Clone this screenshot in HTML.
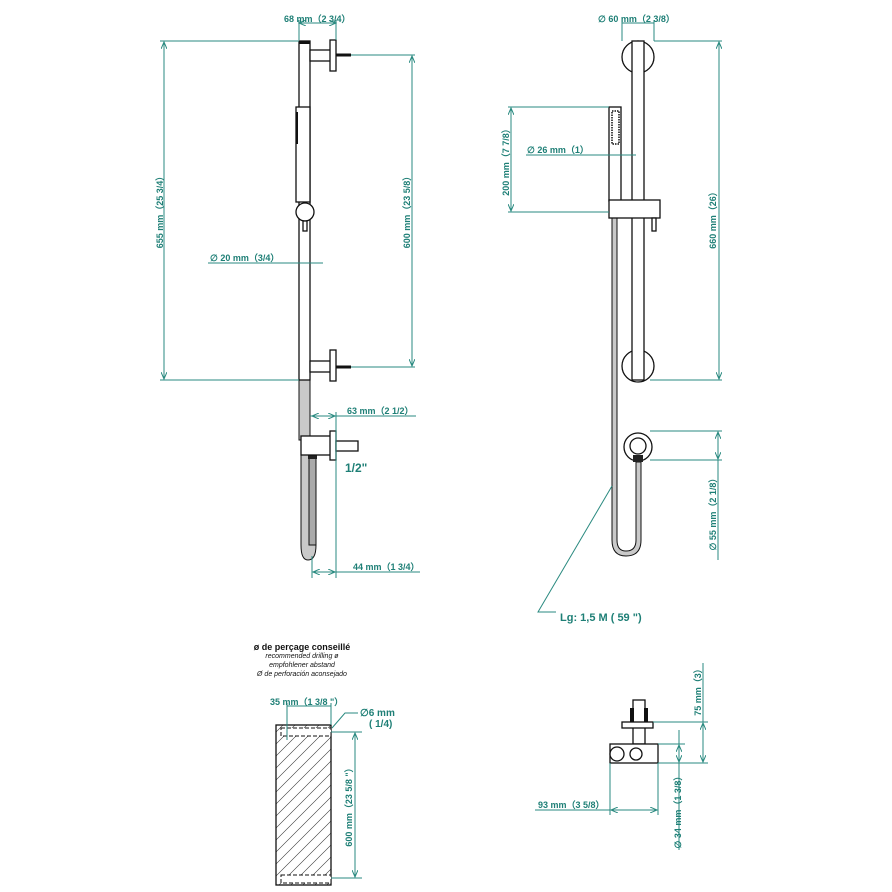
<!DOCTYPE html>
<html><head><meta charset="utf-8"><style>
html,body{margin:0;padding:0;background:#fff;width:892px;height:892px;overflow:hidden}
svg{display:block}
.t{font-family:"Liberation Sans",sans-serif;font-weight:bold;font-size:9px;fill:#1e7f76}
.d{stroke:#2a8a80;stroke-width:1;fill:none}
.k{stroke:#111;stroke-width:1.3;fill:#fff}
.h{stroke:#111;stroke-width:1;fill:#c9c9c9}
</style></head><body>
<svg width="892" height="892" viewBox="0 0 892 892">
<defs>
<marker id="a" markerWidth="8" markerHeight="6" refX="7" refY="3" orient="auto-start-reverse"><path d="M0,0 L7,3 L0,6" fill="none" stroke="#2a8a80"/></marker>
<pattern id="hp" width="12" height="12" patternUnits="userSpaceOnUse"><path d="M0,12 L12,0 M-3,3 L3,-3 M9,15 L15,9" stroke="#333" stroke-width="0.6" fill="none"/></pattern>
</defs>

<!-- LEFT ELEVATION -->
<rect class="h" x="299" y="380" width="11" height="60"/>
<path class="h" d="M301,455 L301,545 Q301,560 308,560 Q316,560 316,545 L316,455 Z"/>
<rect x="309" y="455" width="7" height="90" fill="#aaa" stroke="#111"/>
<rect x="308" y="451" width="9" height="8" fill="#222"/>
<rect class="k" x="299" y="41" width="11" height="339"/>
<rect x="299" y="41" width="11" height="3" fill="#111"/>
<rect class="k" x="310" y="50" width="22" height="11"/>
<rect class="k" x="330" y="40" width="6" height="31"/>
<path d="M336,55 L351,55" stroke="#111" stroke-width="3"/>
<rect class="k" x="310" y="361" width="22" height="11"/>
<rect class="k" x="330" y="350" width="6" height="31"/>
<path d="M336,367 L351,367" stroke="#111" stroke-width="3"/>
<rect class="k" x="296" y="107" width="14" height="95"/>
<rect x="296" y="112" width="2" height="32" fill="#111"/>
<circle class="k" cx="305" cy="212" r="9"/>
<rect class="k" x="303" y="221" width="4" height="10"/>
<rect class="k" x="301" y="436" width="30" height="19"/>
<rect class="k" x="330" y="431" width="6" height="29"/>
<rect class="k" x="336" y="441" width="22" height="10"/>

<line class="d" x1="299" y1="20" x2="299" y2="40"/><line class="d" x1="336" y1="20" x2="336" y2="40"/>
<line class="d" x1="299" y1="23" x2="336" y2="23" marker-start="url(#a)" marker-end="url(#a)"/>
<text class="t" x="284" y="22">68 mm（2 3/4）</text>
<line class="d" x1="160" y1="41" x2="299" y2="41"/><line class="d" x1="160" y1="380" x2="299" y2="380"/>
<line class="d" x1="164" y1="42" x2="164" y2="379" marker-start="url(#a)" marker-end="url(#a)"/>
<text class="t" transform="translate(163,210) rotate(-90)" text-anchor="middle">655 mm（25 3/4）</text>
<line class="d" x1="351" y1="55" x2="415" y2="55"/><line class="d" x1="351" y1="367" x2="415" y2="367"/>
<line class="d" x1="412" y1="56" x2="412" y2="366" marker-start="url(#a)" marker-end="url(#a)"/>
<text class="t" transform="translate(410,210) rotate(-90)" text-anchor="middle">600 mm（23 5/8）</text>
<line class="d" x1="208" y1="263" x2="323" y2="263"/>
<text class="t" x="210" y="261">∅ 20 mm（3/4）</text>
<line class="d" x1="310" y1="416" x2="416" y2="416"/>
<line class="d" x1="312" y1="416" x2="335" y2="416" marker-start="url(#a)" marker-end="url(#a)"/>
<text class="t" x="347" y="414">63 mm（2 1/2）</text>
<line class="d" x1="336" y1="412" x2="336" y2="578"/>
<line class="d" x1="312" y1="556" x2="312" y2="578"/>
<line class="d" x1="313" y1="572" x2="335" y2="572" marker-start="url(#a)" marker-end="url(#a)"/>
<line class="d" x1="336" y1="572" x2="420" y2="572"/>
<text class="t" x="353" y="570">44 mm（1 3/4）</text>
<text class="t" x="345" y="472" style="font-size:12px">1/2"</text>

<!-- RIGHT ELEVATION -->
<path class="h" d="M612,218 L612,540 Q612,556 626,556 Q641,556 641,540 L641,462 L636,462 L636,540 Q636,551 626,551 Q617,551 617,540 L617,218 Z"/>
<circle class="k" cx="638" cy="57" r="16"/>
<circle class="k" cx="638" cy="366" r="16"/>
<rect class="k" x="632" y="41" width="12" height="339"/>
<rect class="k" x="609" y="107" width="12" height="94"/>
<rect x="612" y="111" width="7" height="33" fill="#fff" stroke="#111" stroke-width="1.5" stroke-dasharray="1.5 1"/>
<rect class="k" x="609" y="200" width="51" height="18"/>
<rect class="k" x="652" y="218" width="4" height="13"/>
<circle class="k" cx="638" cy="447" r="14"/>
<circle class="k" cx="638" cy="446" r="8"/>
<rect x="633" y="455" width="10" height="7" fill="#222"/>

<line class="d" x1="622" y1="20" x2="622" y2="41"/><line class="d" x1="654" y1="20" x2="654" y2="41"/>
<line class="d" x1="622" y1="23" x2="654" y2="23"/>
<text class="t" x="598" y="22">∅ 60 mm（2 3/8）</text>
<line class="d" x1="654" y1="41" x2="722" y2="41"/><line class="d" x1="650" y1="380" x2="722" y2="380"/>
<line class="d" x1="719" y1="42" x2="719" y2="379" marker-start="url(#a)" marker-end="url(#a)"/>
<text class="t" transform="translate(716,218) rotate(-90)" text-anchor="middle">660 mm（26）</text>
<line class="d" x1="508" y1="107" x2="609" y2="107"/><line class="d" x1="508" y1="212" x2="609" y2="212"/>
<line class="d" x1="511" y1="108" x2="511" y2="211" marker-start="url(#a)" marker-end="url(#a)"/>
<text class="t" transform="translate(509,160) rotate(-90)" text-anchor="middle">200 mm（7 7/8）</text>
<line class="d" x1="526" y1="155" x2="636" y2="155"/>
<text class="t" x="527" y="153">∅ 26 mm（1）</text>
<line class="d" x1="650" y1="431" x2="722" y2="431"/><line class="d" x1="650" y1="460" x2="722" y2="460"/>
<line class="d" x1="718" y1="432" x2="718" y2="459" marker-start="url(#a)" marker-end="url(#a)"/>
<line class="d" x1="718" y1="460" x2="718" y2="560"/>
<text class="t" transform="translate(716,512) rotate(-90)" text-anchor="middle">∅ 55 mm（2 1/8）</text>
<polyline class="d" points="612,486 538,612 556,612"/>
<text class="t" x="560" y="621" style="font-size:11px">Lg: 1,5 M ( 59 ")</text>

<!-- BOTTOM LEFT -->
<text class="t" x="302" y="650" text-anchor="middle" style="fill:#111">ø de perçage conseillé</text>
<g style="font-family:'Liberation Sans',sans-serif;font-style:italic;font-size:7px;fill:#111" text-anchor="middle">
<text x="302" y="658">recommended drilling ø</text>
<text x="302" y="667">empfohlener abstand</text>
<text x="302" y="676">Ø de perforación aconsejado</text></g>
<rect x="276" y="725" width="55" height="160" fill="url(#hp)" stroke="#111" stroke-width="1.3"/>
<rect x="281" y="728" width="50" height="8" fill="#fff" stroke="#111" stroke-dasharray="4 2"/>
<rect x="281" y="875" width="50" height="8" fill="#fff" stroke="#111" stroke-dasharray="4 2"/>
<line class="d" x1="287" y1="703" x2="287" y2="740"/><line class="d" x1="331" y1="703" x2="331" y2="725"/>
<line class="d" x1="287" y1="706" x2="331" y2="706"/>
<text class="t" x="270" y="705">35 mm（1 3/8 "）</text>
<polyline class="d" points="332,728 345,713 358,713"/>
<text class="t" x="360" y="716" style="font-size:10px">∅6 mm</text>
<text class="t" x="369" y="727" style="font-size:10px">( 1/4)</text>
<line class="d" x1="331" y1="732" x2="362" y2="732"/><line class="d" x1="331" y1="878" x2="362" y2="878"/>
<line class="d" x1="355" y1="733" x2="355" y2="877" marker-start="url(#a)" marker-end="url(#a)"/>
<text class="t" transform="translate(352,805) rotate(-90)" text-anchor="middle">600 mm（23 5/8 "）</text>

<!-- BOTTOM RIGHT -->
<rect class="k" x="633" y="700" width="12" height="44"/>
<rect x="630" y="708" width="4" height="14" fill="#111"/><rect x="644" y="708" width="4" height="14" fill="#111"/>
<rect class="k" x="622" y="722" width="31" height="6"/>
<rect class="k" x="610" y="744" width="48" height="19"/>
<circle class="k" cx="617" cy="754" r="7"/>
<circle class="k" cx="636" cy="754" r="6"/>
<line class="d" x1="653" y1="722" x2="708" y2="722"/><line class="d" x1="658" y1="763" x2="708" y2="763"/>
<line class="d" x1="703" y1="663" x2="703" y2="722"/>
<line class="d" x1="703" y1="723" x2="703" y2="762" marker-start="url(#a)" marker-end="url(#a)"/>
<text class="t" transform="translate(701,690) rotate(-90)" text-anchor="middle">75 mm（3）</text>
<line class="d" x1="658" y1="744" x2="685" y2="744"/>
<line class="d" x1="679" y1="730" x2="679" y2="850"/>
<line class="d" x1="679" y1="745" x2="679" y2="762" marker-start="url(#a)" marker-end="url(#a)"/>
<text class="t" transform="translate(681,810) rotate(-90)" text-anchor="middle">∅ 34 mm（1 3/8）</text>
<line class="d" x1="610" y1="763" x2="610" y2="815"/><line class="d" x1="658" y1="763" x2="658" y2="815"/>
<line class="d" x1="535" y1="810" x2="610" y2="810"/>
<line class="d" x1="611" y1="810" x2="657" y2="810" marker-start="url(#a)" marker-end="url(#a)"/>
<text class="t" x="538" y="808">93 mm（3 5/8）</text>
</svg>
</body></html>
